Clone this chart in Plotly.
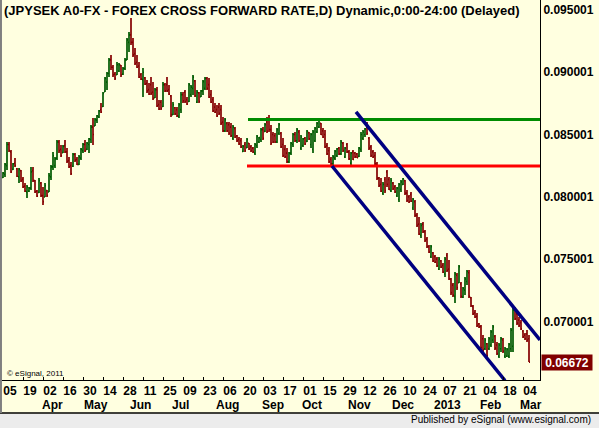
import numpy as np
import pandas as pd
import plotly.graph_objects as go

# daily bars, JPYSEK forward, prices in units of 1e-5
dates = pd.bdate_range("2012-03-05", periods=264)

high = [8199, 8271, 8440, 8440, 8376, 8271, 8311, 8231, 8231, 8215,
        8159, 8111, 8095, 8078, 8239, 8239, 8135, 8054, 8151, 8119,
        8078, 8111, 8054, 8191, 8255, 8360, 8320, 8456, 8456, 8416,
        8416, 8456, 8392, 8320, 8279, 8351, 8351, 8320, 8335, 8392,
        8432, 8456, 8440, 8472, 8576, 8632, 8632, 8656, 8697, 8753,
        8841, 8962, 9002, 9114, 9138, 9058, 9002, 9082, 9074, 9058,
        9042, 9114, 9275, 9323, 9435, 9275, 9195, 9138, 9082, 8994,
        9034, 8962, 8938, 8914, 8962, 8922, 8873, 8881, 8777, 8777,
        8922, 8914, 8962, 8898, 8817, 8761, 8721, 8721, 8753, 8841,
        8841, 8857, 8801, 8914, 8898, 8978, 8938, 8857, 8841, 8857,
        8938, 8962, 8962, 8954, 8857, 8801, 8753, 8737, 8753, 8737,
        8640, 8632, 8600, 8600, 8592, 8576, 8560, 8496, 8480, 8472,
        8416, 8440, 8472, 8432, 8416, 8400, 8432, 8496, 8480, 8552,
        8560, 8592, 8640, 8656, 8576, 8520, 8512, 8552, 8592, 8520,
        8472, 8416, 8392, 8360, 8440, 8512, 8520, 8552, 8536, 8496,
        8472, 8480, 8536, 8520, 8512, 8536, 8560, 8600, 8632, 8592,
        8552, 8536, 8432, 8400, 8320, 8335, 8376, 8392, 8400, 8456,
        8440, 8400, 8432, 8376, 8360, 8376, 8360, 8351, 8400, 8520,
        8536, 8552, 8600, 8480, 8416, 8376, 8360, 8279, 8159, 8151,
        8119, 8159, 8215, 8159, 8151, 8119, 8095, 8078, 8111, 8135,
        8151, 8135, 8054, 8014, 8038, 7990, 7974, 7869, 7837, 7789,
        7797, 7733, 7677, 7613, 7613, 7557, 7532, 7516, 7516, 7492,
        7468, 7516, 7549, 7492, 7348, 7308, 7396, 7388, 7452, 7316,
        7276, 7356, 7412, 7412, 7195, 7131, 7091, 7066, 6986, 6970,
        6890, 6866, 6826, 6874, 6930, 6970, 6890, 6834, 6826, 6874,
        6866, 6794, 6786, 6826, 6946, 7115, 7115, 7074, 7034, 7010,
        6930, 6906, 6930, 6890]

low = [8151, 8159, 8215, 8360, 8191, 8215, 8239, 8159, 8111, 8119,
       8070, 8038, 7990, 8038, 8054, 8119, 8030, 7998, 8030, 7998,
       7934, 7998, 7998, 8038, 8135, 8215, 8231, 8295, 8351, 8320,
       8351, 8351, 8271, 8231, 8175, 8239, 8279, 8255, 8255, 8295,
       8351, 8360, 8376, 8351, 8432, 8416, 8568, 8592, 8632, 8673,
       8721, 8841, 8857, 8962, 9018, 8962, 8938, 8978, 9002, 8962,
       8978, 9018, 9098, 9162, 9219, 9122, 9058, 9034, 8954, 8938,
       8801, 8898, 8833, 8817, 8817, 8777, 8793, 8721, 8697, 8697,
       8721, 8841, 8841, 8817, 8640, 8656, 8656, 8640, 8632, 8673,
       8753, 8753, 8737, 8761, 8801, 8817, 8801, 8753, 8753, 8801,
       8817, 8857, 8857, 8793, 8753, 8681, 8673, 8640, 8656, 8576,
       8520, 8520, 8520, 8496, 8480, 8456, 8472, 8440, 8416, 8392,
       8360, 8360, 8392, 8376, 8360, 8351, 8335, 8392, 8432, 8440,
       8456, 8520, 8512, 8520, 8416, 8432, 8432, 8432, 8496, 8392,
       8320, 8311, 8271, 8271, 8335, 8400, 8440, 8432, 8440, 8376,
       8400, 8416, 8440, 8456, 8392, 8351, 8440, 8512, 8552, 8496,
       8472, 8392, 8335, 8271, 8255, 8255, 8295, 8320, 8335, 8335,
       8360, 8311, 8351, 8295, 8255, 8295, 8311, 8311, 8320, 8360,
       8456, 8480, 8496, 8376, 8320, 8311, 8255, 8135, 8078, 8038,
       8014, 8030, 8078, 8054, 8038, 8054, 8030, 7998, 7958, 8038,
       8095, 8014, 7958, 7950, 7958, 7894, 7837, 7757, 7693, 7669,
       7709, 7637, 7589, 7549, 7508, 7476, 7468, 7436, 7412, 7428,
       7388, 7356, 7396, 7332, 7212, 7195, 7147, 7251, 7308, 7187,
       7187, 7212, 7292, 7187, 7115, 7050, 7026, 6954, 6946, 6770,
       6754, 6770, 6713, 6770, 6794, 6826, 6770, 6730, 6705, 6754,
       6746, 6705, 6713, 6705, 6754, 6754, 7010, 6970, 6954, 6930,
       6866, 6850, 6834, 6673]

open_ = [8155, 8180, 8250, 8420, 8360, 8220, 8270, 8225, 8160, 8210,
         8140, 8085, 8040, 8045, 8070, 8210, 8130, 8045, 8035, 8110,
         8010, 8000, 8050, 8040, 8160, 8240, 8250, 8310, 8440, 8380,
         8355, 8410, 8360, 8290, 8250, 8245, 8340, 8300, 8260, 8310,
         8370, 8420, 8380, 8420, 8460, 8560, 8570, 8615, 8640, 8700,
         8725, 8845, 8920, 8990, 9100, 9040, 8985, 8980, 9010, 9055,
         8985, 9030, 9100, 9240, 9300, 9240, 9150, 9080, 9050, 8980,
         8940, 8955, 8910, 8860, 8900, 8840, 8795, 8860, 8740, 8760,
         8725, 8900, 8900, 8860, 8810, 8660, 8715, 8700, 8645, 8700,
         8820, 8840, 8780, 8765, 8820, 8870, 8930, 8760, 8835, 8805,
         8850, 8870, 8950, 8900, 8820, 8780, 8720, 8700, 8720, 8700,
         8600, 8530, 8590, 8580, 8560, 8470, 8550, 8490, 8460, 8450,
         8365, 8420, 8395, 8430, 8400, 8390, 8350, 8410, 8440, 8460,
         8540, 8525, 8600, 8620, 8540, 8500, 8490, 8440, 8510, 8510,
         8420, 8380, 8350, 8280, 8350, 8420, 8500, 8450, 8520, 8390,
         8410, 8470, 8445, 8515, 8420, 8380, 8450, 8520, 8560, 8590,
         8530, 8500, 8410, 8370, 8300, 8265, 8310, 8330, 8390, 8345,
         8430, 8320, 8420, 8360, 8270, 8360, 8350, 8345, 8325, 8380,
         8470, 8500, 8560, 8470, 8400, 8360, 8330, 8260, 8150, 8100,
         8030, 8140, 8200, 8140, 8050, 8110, 8080, 8010, 7980, 8060,
         8100, 8130, 8030, 8000, 8020, 7910, 7960, 7850, 7780, 7690,
         7780, 7720, 7660, 7600, 7520, 7550, 7520, 7500, 7420, 7485,
         7450, 7380, 7530, 7420, 7340, 7290, 7200, 7370, 7310, 7300,
         7195, 7250, 7320, 7390, 7190, 7120, 7070, 7040, 6980, 6960,
         6860, 6780, 6820, 6780, 6810, 6850, 6880, 6810, 6720, 6780,
         6850, 6720, 6720, 6720, 6780, 6800, 7100, 7060, 7010, 6990,
         6920, 6890, 6900, 6860]

close = [8190, 8260, 8420, 8370, 8200, 8265, 8250, 8165, 8220, 8130,
         8080, 8045, 8080, 8070, 8200, 8130, 8040, 8005, 8130, 8010,
         7960, 8090, 8010, 8170, 8240, 8330, 8305, 8440, 8370, 8330,
         8405, 8360, 8285, 8240, 8185, 8340, 8295, 8260, 8320, 8380,
         8420, 8370, 8430, 8465, 8560, 8500, 8620, 8650, 8690, 8680,
         8830, 8950, 8990, 9100, 9040, 8980, 8950, 9060, 9060, 8980,
         9030, 9100, 9260, 9300, 9240, 9140, 9070, 9040, 8960, 8945,
         9000, 8905, 8850, 8825, 8830, 8790, 8860, 8730, 8705, 8710,
         8900, 8850, 8850, 8825, 8660, 8740, 8665, 8650, 8740, 8820,
         8770, 8765, 8745, 8900, 8880, 8960, 8810, 8840, 8765, 8850,
         8925, 8950, 8870, 8800, 8760, 8690, 8680, 8650, 8670, 8590,
         8530, 8620, 8530, 8510, 8490, 8560, 8480, 8450, 8425, 8400,
         8405, 8370, 8460, 8385, 8370, 8360, 8420, 8485, 8475, 8540,
         8470, 8580, 8525, 8540, 8430, 8440, 8440, 8540, 8580, 8400,
         8330, 8320, 8280, 8350, 8430, 8500, 8450, 8540, 8450, 8480,
         8465, 8425, 8525, 8465, 8500, 8520, 8550, 8590, 8620, 8500,
         8480, 8400, 8345, 8280, 8265, 8320, 8365, 8385, 8345, 8440,
         8370, 8390, 8360, 8305, 8350, 8300, 8320, 8315, 8390, 8500,
         8520, 8545, 8510, 8390, 8330, 8320, 8265, 8150, 8090, 8045,
         8100, 8050, 8100, 8060, 8130, 8065, 8040, 8070, 8100, 8120,
         8145, 8030, 7970, 7960, 7965, 7980, 7850, 7770, 7700, 7770,
         7720, 7650, 7600, 7555, 7600, 7485, 7475, 7445, 7500, 7435,
         7395, 7500, 7410, 7340, 7230, 7210, 7380, 7270, 7440, 7200,
         7265, 7340, 7400, 7200, 7125, 7060, 7035, 6965, 6955, 6790,
         6770, 6850, 6725, 6860, 6915, 6955, 6785, 6740, 6810, 6860,
         6760, 6780, 6775, 6815, 6930, 7090, 7020, 6985, 6965, 6940,
         6875, 6860, 6850, 6672]

assert len(high) == len(low) == len(open_) == len(close) == len(dates)

# drawn studies
resistance_x = ["2012-08-22 12:00", "2013-03-15"]
resistance_y = [0.08620, 0.08620]
support_x = ["2012-08-22", "2013-03-15"]
support_y = [0.08247, 0.08247]
upper_channel_x = ["2012-11-06 12:00", "2013-03-14 12:00"]
upper_channel_y = [0.08681, 0.06850]
lower_channel_x = ["2012-10-19 12:00", "2013-02-19"]
lower_channel_y = [0.08247, 0.06525]

# axes
day_ticks = ["2012-03-05", "2012-03-19", "2012-04-02", "2012-04-16", "2012-04-30",
             "2012-05-14", "2012-05-28", "2012-06-11", "2012-06-25", "2012-07-09",
             "2012-07-23", "2012-08-06", "2012-08-20", "2012-09-03", "2012-09-17",
             "2012-10-01", "2012-10-15", "2012-10-29", "2012-11-12", "2012-11-26",
             "2012-12-10", "2012-12-24", "2013-01-07", "2013-01-21", "2013-02-04",
             "2013-02-18", "2013-03-04"]
month_dates = ["2012-04-02", "2012-05-01", "2012-06-01", "2012-07-02", "2012-08-01",
               "2012-09-03", "2012-10-01", "2012-11-01", "2012-12-03", "2013-01-01",
               "2013-02-01", "2013-03-01"]
month_labels = ["Apr", "May", "Jun", "Jul", "Aug", "Sep", "Oct", "Nov", "Dec",
                "2013", "Feb", "Mar"]
price_ticks = [0.070001, 0.075001, 0.080001, 0.085001, 0.090001, 0.095001]
price_labels = ["0.070001", "0.075001", "0.080001", "0.085001", "0.090001", "0.095001"]
last_price = "0.06672"

FONT = "Liberation Sans, Arial, sans-serif"
BG = "#FFFFE0"

fig = go.Figure()
fig.add_trace(go.Ohlc(x=dates,
                      open=np.array(open_) / 1e5, high=np.array(high) / 1e5,
                      low=np.array(low) / 1e5, close=np.array(close) / 1e5,
                      increasing=dict(line=dict(color="#005A00", width=1.7)),
                      decreasing=dict(line=dict(color="#850000", width=1.7)),
                      tickwidth=0.5, showlegend=False, hoverinfo="skip"))

fig.add_trace(go.Scatter(x=resistance_x, y=resistance_y, mode="lines",
                         line=dict(color="#008C00", width=3), showlegend=False, hoverinfo="skip"))
fig.add_trace(go.Scatter(x=support_x, y=support_y, mode="lines",
                         line=dict(color="#FF0000", width=3), showlegend=False, hoverinfo="skip"))
for cx, cy in [(upper_channel_x, upper_channel_y), (lower_channel_x, lower_channel_y)]:
    fig.add_trace(go.Scatter(x=cx, y=cy, mode="lines",
                             line=dict(color="#000080", width=3.5), showlegend=False, hoverinfo="skip"))

annotations = [
    dict(text="<b>(JPYSEK A0-FX - FOREX CROSS FORWARD RATE,D) Dynamic,0:00-24:00 (Delayed)</b>",
         xref="paper", yref="paper", x=0.0, y=0.972, xanchor="left", yanchor="middle",
         showarrow=False, font=dict(family=FONT, size=13, color="#000000")),
    dict(text="© eSignal, 2011", xref="paper", yref="paper", x=0.005, y=0.018,
         xanchor="left", yanchor="middle", showarrow=False,
         font=dict(family=FONT, size=8, color="#000000")),
    dict(text="<b>" + last_price + "</b>", xref="paper", yref="y", x=1.002, y=float(last_price),
         xanchor="left", yanchor="middle", showarrow=False, bgcolor="#800000",
         width=48, height=13, borderpad=1, font=dict(family=FONT, size=12, color="#FFFFFF")),
    dict(text="Published by eSignal (www.esignal.com)", xref="paper", yref="paper",
         x=1.0985, y=-0.105, xanchor="right", yanchor="middle", showarrow=False,
         font=dict(family=FONT, size=10, color="#000000")),
]
for d, lab in zip(month_dates, month_labels):
    annotations.append(dict(text="<b>" + lab + "</b>", xref="x", yref="paper", x=d, y=-0.066,
                            xanchor="left", yanchor="middle", xshift=-3, showarrow=False,
                            font=dict(family=FONT, size=12, color="#000000")))

fig.update_layout(
    width=599, height=428,
    margin=dict(l=2, r=59, t=0, b=48),
    paper_bgcolor=BG, plot_bgcolor=BG,
    annotations=annotations,
    shapes=[
        dict(type="rect", xref="paper", yref="paper", x0=-0.01, x1=1.12, y0=-0.088, y1=-0.14,
             fillcolor="#ECECEC", line=dict(width=0), layer="below"),
        dict(type="line", xref="paper", yref="paper", x0=-0.01, x1=1.12, y0=-0.087, y1=-0.087,
             line=dict(color="#000000", width=1.5)),
        dict(type="line", xref="paper", yref="paper", x0=-0.0019, x1=-0.0019, y0=1.01, y1=-0.087,
             line=dict(color="#808080", width=2)),
    ],
    xaxis=dict(type="date", range=["2012-03-02 12:00", "2013-03-14 12:00"],
               rangebreaks=[dict(bounds=["sat", "mon"])],
               rangeslider=dict(visible=False),
               showgrid=False, zeroline=False, showline=True, linecolor="#000000", linewidth=1,
               ticks="inside", ticklen=3, tickcolor="#000000",
               tickvals=day_ticks, tickformat="%d", ticklabelshift=7,
               tickfont=dict(family=FONT, size=12, color="#000000", weight="bold")),
    yaxis=dict(side="right", range=[0.06529, 0.0958], showgrid=False, zeroline=False,
               showline=True, linecolor="#000000", linewidth=1, ticks="",
               tickvals=price_ticks, ticktext=price_labels,
               tickfont=dict(family=FONT, size=12, color="#000000", weight="bold")),
)

# the page's default body margin would push the figure 8px down and right
fig.write_html("out.html", config={"displayModeBar": False},
               post_script="document.body.style.margin='0';")
